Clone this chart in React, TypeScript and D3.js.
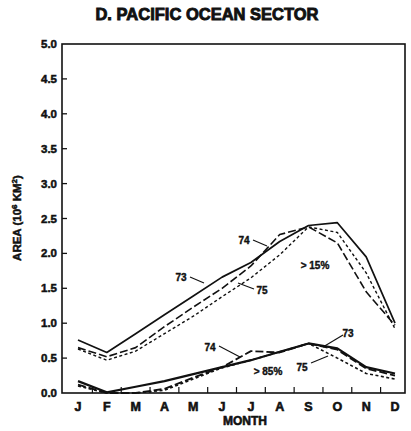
import React, { useEffect, useRef } from 'react';
import * as d3 from 'd3';

const months = ['J', 'F', 'M', 'A', 'M', 'J', 'J', 'A', 'S', 'O', 'N', 'D'];
const yTicks = [0, 0.5, 1.0, 1.5, 2.0, 2.5, 3.0, 3.5, 4.0, 4.5, 5.0];

// > 15% concentration
const c15y73 = [0.76, 0.58, 0.85, 1.12, 1.39, 1.66, 1.87, 2.17, 2.4, 2.44, 1.95, 1.0];
const c15y74 = [0.65, 0.52, 0.65, 0.95, 1.23, 1.5, 1.82, 2.27, 2.38, 2.15, 1.45, 0.97];
const c15y75 = [0.63, 0.47, 0.6, 0.85, 1.1, 1.38, 1.65, 1.98, 2.38, 2.3, 1.72, 0.92];

// > 85% concentration
const c85y73 = [0.17, 0.01, 0.09, 0.17, 0.27, 0.37, 0.47, 0.59, 0.71, 0.64, 0.37, 0.28];
const c85y74 = [0.12, 0.0, 0.0, 0.06, 0.22, 0.37, 0.6, 0.58, 0.71, 0.62, 0.35, 0.25];
const c85y75 = [0.1, 0.0, 0.0, 0.04, 0.2, 0.36, 0.47, 0.59, 0.71, 0.5, 0.28, 0.2];

const font = '"Liberation Sans", Arial, sans-serif';

export default function App() {
    const svgRef = useRef<SVGSVGElement>(null);

    useEffect(() => {
        if (!svgRef.current) return;
        const svg = d3.select(svgRef.current);
        svg.selectAll('*').remove();

        const left = 62, right = 405, top = 44, bottom = 393;

        const x = d3.scaleLinear().domain([0, 11]).range([78, 395]);
        const y = d3.scaleLinear().domain([0, 5]).range([bottom, top]);

        // heavy "black" lettering like the scanned figure
        const heavy = (sel: any, w = 0.6) =>
            sel.attr('font-family', font).attr('font-weight', 700)
                .attr('fill', '#111').attr('stroke', '#111').attr('stroke-width', w);

        // title
        heavy(svg.append('text')
            .attr('x', 207).attr('y', 20)
            .attr('text-anchor', 'middle')
            .attr('font-size', 16.5), 0.9)
            .text('D. PACIFIC OCEAN SECTOR');

        // frame
        svg.append('rect')
            .attr('x', left).attr('y', top)
            .attr('width', right - left).attr('height', bottom - top)
            .attr('fill', 'none').attr('stroke', '#111').attr('stroke-width', 1.6);

        // y ticks
        yTicks.forEach(t => {
            if (t > 0 && t < 5) {
                svg.append('line')
                    .attr('x1', left).attr('x2', left + 5)
                    .attr('y1', y(t)).attr('y2', y(t))
                    .attr('stroke', '#111').attr('stroke-width', 1.3);
            }
            heavy(svg.append('text')
                .attr('x', left - 5).attr('y', y(t) + 4)
                .attr('text-anchor', 'end')
                .attr('font-size', 11.5), 0.5)
                .text(t.toFixed(1));
        });

        // x ticks between months
        d3.range(0.5, 11, 1).forEach(t => {
            svg.append('line')
                .attr('x1', x(t)).attr('x2', x(t))
                .attr('y1', bottom).attr('y2', bottom - 6)
                .attr('stroke', '#111').attr('stroke-width', 1.2);
        });

        months.forEach((m, i) => {
            heavy(svg.append('text')
                .attr('x', x(i)).attr('y', bottom + 18)
                .attr('text-anchor', 'middle')
                .attr('font-size', 12.5), 0.6)
                .text(m);
        });

        heavy(svg.append('text')
            .attr('x', 245).attr('y', 425)
            .attr('text-anchor', 'middle')
            .attr('font-size', 12), 0.6)
            .text('MONTH');

        const yl = heavy(svg.append('text')
            .attr('transform', 'translate(21,218) rotate(-90)')
            .attr('text-anchor', 'middle')
            .attr('font-size', 11.5), 0.5);
        yl.append('tspan').text('AREA (10');
        yl.append('tspan').attr('dy', -4).attr('font-size', 8).text('6');
        yl.append('tspan').attr('dy', 4).text(' KM');
        yl.append('tspan').attr('dy', -4).attr('font-size', 8).text('2');
        yl.append('tspan').attr('dy', 4).text(')');

        const line = d3.line<number>()
            .x((_d, i) => x(i))
            .y(d => y(d));

        const series = [
            { data: c15y73, dash: null, w: 1.7 },
            { data: c15y74, dash: '8,3', w: 1.6 },
            { data: c15y75, dash: '3,2.5', w: 1.4 },
            { data: c85y73, dash: null, w: 2.2 },
            { data: c85y74, dash: '8,3', w: 1.8 },
            { data: c85y75, dash: '3,2.5', w: 1.6 },
        ];
        series.forEach(s => {
            svg.append('path')
                .datum(s.data)
                .attr('d', line)
                .attr('fill', 'none')
                .attr('stroke', '#111')
                .attr('stroke-width', s.w)
                .attr('stroke-linejoin', 'round')
                .attr('stroke-dasharray', s.dash);
        });

        // annotations
        const notes = [
            { t: '73', x: 181, y: 281, l: [190, 277, 204, 283] },
            { t: '74', x: 244, y: 244, l: [253, 240, 267, 246] },
            { t: '75', x: 262, y: 294, l: [238, 283, 254, 289] },
            { t: '74', x: 210, y: 351, l: [219, 346, 240, 357] },
            { t: '73', x: 348, y: 337, l: [343, 335, 323, 347] },
            { t: '75', x: 302, y: 371, l: [311, 363, 328, 356] },
        ];
        notes.forEach(n => {
            heavy(svg.append('text')
                .attr('x', n.x).attr('y', n.y)
                .attr('text-anchor', 'middle')
                .attr('font-size', 10), 0.4)
                .text(n.t);
            svg.append('line')
                .attr('x1', n.l[0]).attr('y1', n.l[1])
                .attr('x2', n.l[2]).attr('y2', n.l[3])
                .attr('stroke', '#111').attr('stroke-width', 1.1);
        });

        heavy(svg.append('text')
            .attr('x', 315).attr('y', 269)
            .attr('text-anchor', 'middle')
            .attr('font-size', 10), 0.4)
            .text('> 15%');
        heavy(svg.append('text')
            .attr('x', 268).attr('y', 375)
            .attr('text-anchor', 'middle')
            .attr('font-size', 10), 0.4)
            .text('> 85%');
    }, []);

    return (
        <svg ref={svgRef} width={411} height={431}
            style={{ position: 'absolute', left: 0, top: 0, background: '#fff' }}></svg>
    );
}
